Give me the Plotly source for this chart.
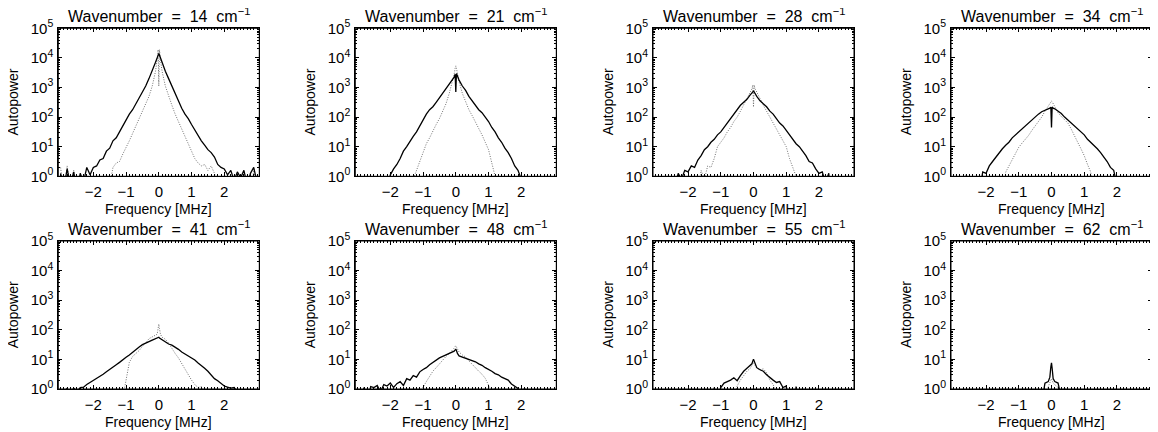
import plotly.graph_objects as go

# --------------------------------------------------------------
# Data (log10 of autopower)
# --------------------------------------------------------------
freq = [-3.0, -2.9, -2.8, -2.7, -2.6, -2.5, -2.4, -2.3, -2.2, -2.1,
        -2.0, -1.9, -1.8, -1.7, -1.6, -1.5, -1.4, -1.3, -1.2, -1.1,
        -1.0, -0.9, -0.8, -0.7, -0.6, -0.5, -0.4, -0.3, -0.2, -0.1,
        -0.05, -0.02, 0.0, 0.02, 0.05,
        0.1, 0.2, 0.3, 0.4, 0.5, 0.6, 0.7, 0.8, 0.9, 1.0,
        1.1, 1.2, 1.3, 1.4, 1.5, 1.6, 1.7, 1.8, 1.9, 2.0,
        2.1, 2.2, 2.3, 2.4, 2.5, 2.6, 2.7, 2.8, 2.9, 3.0]

wavenumbers = [14, 21, 28, 34, 41, 48, 55, 62]

solid_14 = [0.1, -0.4, 0.25, -0.3, 0.15, -0.5, 0.1, -0.2, 0.3, 0.05,
            0.3, 0.35, 0.55, 0.6, 0.85, 0.95, 1.2, 1.3, 1.5, 1.7,
            1.95, 2.1, 2.25, 2.45, 2.6, 2.8, 3.05, 3.3, 3.55, 3.85,
            4.0, 4.1, 4.15, 4.1, 4.0,
            3.85, 3.55, 3.3, 3.05, 2.75, 2.5, 2.3, 2.1, 1.95, 1.75,
            1.55, 1.4, 1.2, 1.05, 0.9, 0.8, 0.65, 0.4, 0.3, 0.25,
            0.05, 0.2, -0.15, 0.15, -0.05, 0.2, -0.3, 0.1, 0.3, -0.2]
dotted_14 = [0.3, -0.6, 0.35, -0.4, 0.2, -0.8, -1.5, -1.5, -1.5, -1.5,
             -1.5, -1.5, -1.2, -0.5, 0.05, -0.3, 0.3, 0.45, 0.5, 0.75,
             0.95, 1.2, 1.45, 1.7, 1.95, 2.2, 2.45, 2.7, 3.05, 3.55,
             3.95, 4.28, 3.05, 4.28, 3.95,
             3.55, 3.05, 2.7, 2.4, 2.1, 1.85, 1.6, 1.35, 1.1, 0.85,
             0.6, 0.45, 0.35, 0.4, 0.2, 0.35, 0.1, -0.4, -1.5, -1.5,
             -1.5, -1.5, -1.5, -1.5, -1.5, -1.5, -1.5, -0.6, 0.2, -0.5]

solid_21 = [-1.5, -1.5, -1.5, -1.5, -1.5, -1.5, -1.5, -1.5, -1.5, -0.4,
            0.05, 0.25, 0.4, 0.6, 0.85, 1.0, 1.2, 1.35, 1.5, 1.7,
            1.95, 2.1, 2.25, 2.35, 2.5, 2.65, 2.8, 2.95, 3.1, 3.25,
            3.35, 3.45, 2.85, 3.47, 3.38,
            3.25, 3.05, 2.9, 2.7, 2.55, 2.4, 2.25, 2.15, 2.0, 1.85,
            1.65, 1.5, 1.3, 1.15, 0.95, 0.8, 0.6, 0.35, 0.2, -0.1,
            -1.5, -1.5, -1.5, -1.5, -1.5, -1.5, -1.5, -1.5, -1.5, -1.5]
dotted_21 = [-1.5, -1.5, -1.5, -1.5, -1.5, -1.5, -1.5, -1.5, -1.5, -1.5,
             -1.5, -1.5, -1.5, -1.5, -1.5, -1.5, -1.5, -0.1, 0.2, 0.5,
             0.85, 1.1, 1.3, 1.55, 1.75, 1.95, 2.2, 2.45, 2.8, 3.2,
             3.45, 3.65, 3.73, 3.65, 3.45,
             3.2, 2.8, 2.5, 2.25, 2.05, 1.85, 1.6, 1.4, 1.15, 0.9,
             0.45, 0.0, -1.5, -1.5, -1.5, -1.5, -1.5, -1.5, -1.5, -1.5,
             -1.5, -1.5, -1.5, -1.5, -1.5, -1.5, -1.5, -1.5, -1.5, -1.5]

solid_28 = [-1.5, -1.5, -1.5, -1.5, -1.5, -1.5, -0.3, 0.1, -0.1, 0.2,
            0.15, 0.35, 0.3, 0.55, 0.7, 0.9, 1.0, 1.15, 1.25, 1.4,
            1.5, 1.65, 1.8, 1.95, 2.1, 2.25, 2.4, 2.5, 2.6, 2.75,
            2.8, 2.85, 2.89, 2.85, 2.8,
            2.7, 2.55, 2.45, 2.35, 2.2, 2.1, 1.95, 1.8, 1.7, 1.55,
            1.4, 1.25, 1.1, 1.0, 0.85, 0.7, 0.5, 0.45, 0.25, 0.1,
            0.15, -0.2, 0.1, -1.5, -1.5, -1.5, -1.5, -1.5, -1.5, -1.5]
dotted_28 = [-1.5, -1.5, -1.5, -1.5, -1.5, -1.5, -1.5, -1.5, -1.5, -1.5,
             -1.5, -1.5, -1.5, -0.6, 0.2, -0.1, 0.35, 0.3, 0.6, 1.0,
             1.15, 1.3, 1.5, 1.65, 1.85, 2.0, 2.2, 2.4, 2.6, 2.85,
             2.95, 3.08, 2.34, 3.08, 2.95,
             2.85, 2.6, 2.4, 2.2, 2.0, 1.8, 1.6, 1.4, 1.2, 1.0,
             0.6, 0.3, 0.0, -1.5, -1.5, -1.5, -1.5, -1.5, -1.5, -1.5,
             -1.5, -1.5, -1.5, -1.5, -1.5, -1.5, -1.5, -1.5, -1.5, -1.5]

solid_34 = [-1.5, -1.5, -1.5, -1.5, 0.05, -1.5, -1.5, -1.5, -0.5, 0.15,
            0.1, 0.35, 0.5, 0.65, 0.8, 0.93, 1.05, 1.15, 1.3, 1.4,
            1.5, 1.6, 1.72, 1.8, 1.9, 2.0, 2.1, 2.18, 2.22, 2.28,
            2.3, 2.33, 1.65, 2.34, 2.3,
            2.28, 2.2, 2.12, 2.0, 1.9, 1.8, 1.7, 1.6, 1.5, 1.4,
            1.25, 1.15, 1.05, 0.93, 0.8, 0.65, 0.5, 0.3, 0.2, -0.3,
            -1.5, -1.5, -1.5, -1.5, -1.5, -1.5, -1.5, -1.5, -1.5, -1.5]
dotted_34 = [-1.5, -1.5, -1.5, -1.5, -1.5, -1.5, -1.5, -1.5, -1.5, -1.5,
             -1.5, -1.5, -1.5, -1.5, -1.5, -1.5, 0.14, 0.35, 0.6, 0.81,
             0.98, 1.12, 1.25, 1.38, 1.55, 1.7, 1.84, 2.0, 2.2, 2.38,
             2.46, 2.52, 2.54, 2.52, 2.46,
             2.35, 2.15, 2.02, 1.9, 1.8, 1.6, 1.4, 1.15, 0.93, 0.7,
             0.4, 0.14, -1.5, -1.5, -1.5, -1.5, -1.5, -1.5, -1.5, -1.5,
             -1.5, -1.5, -1.5, -1.5, -1.5, -1.5, -1.5, -1.5, -1.5, -1.5]

solid_41 = [-1.5, -0.1, 0.02, -0.2, 0.03, -0.1, 0.05, 0.06, 0.15, 0.22,
            0.28, 0.34, 0.42, 0.5, 0.58, 0.67, 0.75, 0.82, 0.9, 1.0,
            1.07, 1.15, 1.25, 1.33, 1.42, 1.5, 1.56, 1.6, 1.65, 1.7,
            1.72, 1.74, 1.75, 1.72, 1.7,
            1.65, 1.58, 1.52, 1.48, 1.42, 1.34, 1.25, 1.18, 1.12, 1.07,
            0.98, 0.88, 0.8, 0.7, 0.6, 0.48, 0.35, 0.28, 0.18, 0.1,
            0.06, 0.03, 0.05, -0.1, -1.5, -1.5, -1.5, -1.5, -1.5, -1.5]
dotted_41 = [-1.5, -1.5, -1.5, -1.5, -1.5, -1.5, -1.5, -1.5, -1.5, -1.5,
             -1.5, -1.5, -1.5, -1.5, -1.5, -1.5, -1.5, -1.5, -1.5, -0.3,
             0.3, 0.9, 1.1, 1.2, 1.3, 1.45, 1.55, 1.7, 1.75, 1.8,
             1.85, 2.05, 2.19, 2.05, 1.85,
             1.75, 1.68, 1.55, 1.35, 1.2, 1.05, 0.85, 0.7, 0.5, 0.3,
             0.15, 0.05, 0.08, -0.3, -1.5, -1.5, -1.5, -1.5, -1.5, -1.5,
             -1.5, -1.5, -1.5, -1.5, -1.5, -1.5, -1.5, -1.5, -1.5, -1.5]

solid_48 = [-1.5, -0.3, 0.05, -0.5, 0.08, 0.05, 0.12, -0.1, 0.15, 0.1,
            0.2, 0.05, 0.18, 0.25, 0.12, 0.35, 0.3, 0.45, 0.4, 0.58,
            0.66, 0.72, 0.82, 0.9, 0.96, 1.05, 1.1, 1.15, 1.2, 1.25,
            1.28, 1.32, 1.35, 1.3, 1.2,
            1.12, 1.08, 1.05, 1.02, 0.98, 0.92, 0.85, 0.8, 0.72, 0.67,
            0.6, 0.52, 0.48, 0.4, 0.34, 0.3, 0.17, 0.1, 0.02, -0.3,
            0.03, -1.5, -1.5, -1.5, -1.5, -1.5, -1.5, -1.5, -1.5, -1.5]
dotted_48 = [-1.5, -1.5, -1.5, -1.5, -1.5, -1.5, -1.5, -1.5, -1.5, -1.5,
             -1.5, -1.5, -1.5, -1.5, -1.5, -1.5, -1.5, -1.5, -1.5, -0.2,
             0.06, 0.25, 0.45, 0.6, 0.72, 0.85, 0.98, 1.1, 1.2, 1.3,
             1.38, 1.44, 1.46, 1.42, 1.35,
             1.25, 1.15, 1.08, 0.95, 0.85, 0.72, 0.6, 0.5, 0.36, 0.15,
             -0.1, 0.05, -1.5, -1.5, -1.5, -1.5, -1.5, -1.5, -1.5, -1.5,
             -1.5, -1.5, -1.5, -1.5, -1.5, -1.5, -1.5, -1.5, -1.5, -1.5]

solid_55 = [-1.5, -1.5, -1.5, -1.5, -1.5, -1.5, -1.5, -1.5, -1.5, -1.5,
            -1.5, -1.5, -1.5, -1.5, -1.5, -1.5, -1.5, -1.5, 0.05, -0.5,
            0.05, 0.2, 0.25, 0.3, 0.38, 0.28, 0.45, 0.6, 0.7, 0.8,
            0.85, 0.95, 1.01, 0.95, 0.85,
            0.72, 0.65, 0.6, 0.48, 0.38, 0.3, 0.22, 0.25, 0.05, 0.1,
            -0.5, -1.5, 0.08, -1.5, -1.5, -1.5, -1.5, -1.5, -1.5, -1.5,
            -1.5, -1.5, -1.5, -1.5, -1.5, -1.5, -1.5, -1.5, -1.5, -1.5]
dotted_55 = [-1.5, -1.5, -1.5, -1.5, -1.5, -1.5, -1.5, -1.5, -1.5, -1.5,
             -1.5, -1.5, -1.5, -1.5, -1.5, -1.5, -1.5, -1.5, -1.5, -1.5,
             -1.5, -1.5, -1.5, -1.5, -0.3, 0.1, 0.3, 0.45, 0.6, 0.7,
             0.78, 0.85, 0.9, 0.85, 0.78,
             0.7, 0.65, 0.68, 0.55, 0.3, 0.15, -0.2, -1.5, -1.5, -1.5,
             -1.5, -1.5, -1.5, -1.5, -1.5, -1.5, -1.5, -1.5, -1.5, -1.5,
             -1.5, -1.5, -1.5, -1.5, -1.5, -1.5, -1.5, -1.5, -1.5, -1.5]

solid_62 = [-1.5, -1.5, -1.5, -1.5, -1.5, -1.5, -1.5, -1.5, -1.5, -1.5,
            -1.5, -1.5, -1.5, -1.5, -1.5, -1.5, -1.5, -1.5, -1.5, -1.5,
            -1.5, -1.5, -1.5, -1.5, -1.5, -1.5, -1.5, -0.5, 0.2, 0.25,
            0.4, 0.75, 0.88, 0.7, 0.35,
            0.25, 0.2, -0.3, 0.02, -1.5, -1.5, -1.5, -1.5, -1.5, -1.5,
            -1.5, -1.5, -1.5, -1.5, -1.5, -1.5, -1.5, -1.5, -1.5, -1.5,
            -1.5, -1.5, -1.5, -1.5, -1.5, -1.5, -1.5, -1.5, -1.5, -1.5]
dotted_62 = [-1.5, -1.5, -1.5, -1.5, -1.5, -1.5, -1.5, -1.5, -1.5, -1.5,
             -1.5, -1.5, -1.5, -1.5, -1.5, -1.5, -1.5, -1.5, -1.5, -1.5,
             -1.5, -1.5, -1.5, -1.5, -1.5, -1.5, -1.5, -1.5, -0.2, 0.1,
             0.2, 0.3, 0.35, 0.3, 0.2,
             0.15, 0.05, -0.5, -1.5, -1.5, -1.5, -1.5, -1.5, -1.5, -1.5,
             -1.5, -1.5, -1.5, -1.5, -1.5, -1.5, -1.5, -1.5, -1.5, -1.5,
             -1.5, -1.5, -1.5, -1.5, -1.5, -1.5, -1.5, -1.5, -1.5, -1.5]

solid_series = [solid_14, solid_21, solid_28, solid_34,
                solid_41, solid_48, solid_55, solid_62]
dotted_series = [dotted_14, dotted_21, dotted_28, dotted_34,
                 dotted_41, dotted_48, dotted_55, dotted_62]

x_ticks = [-2, -1, 0, 1, 2]
x_ticktext = ["\u22122", "\u22121", "0", "1", "2"]
y_ticks = [1, 10, 100, 1000, 10000, 100000]
y_ticktext = ["10<sup>%d</sup>" % k for k in range(6)]

# --------------------------------------------------------------
# Layout parameters (pixels on the page; the page body adds 8px)
# --------------------------------------------------------------
W, H = 1158, 432
OFF = 8
col_left = [58.3, 355.3, 653.0, 951.0]
row_top = [28.3, 241.0]
pw, ph = 201, 148
font_name = "Liberation Sans, Arial, sans-serif"


def px_x(p):
    return (p - OFF) / W


def px_y(p):
    return 1 - (p - OFF) / H


minor_y = [m * 10 ** k for k in range(5) for m in range(2, 10)]

fig = go.Figure()
annotations = []
shapes = []

for i, wn in enumerate(wavenumbers):
    r, c = divmod(i, 4)
    n = i + 1
    xa = "x" if n == 1 else "x%d" % n
    ya = "y" if n == 1 else "y%d" % n
    L, T = col_left[c], row_top[r]

    fig.add_trace(go.Scatter(
        x=freq, y=[10 ** v for v in dotted_series[i]],
        mode="lines", line=dict(color="#707070", width=1, dash="1px,1.5px"),
        xaxis=xa, yaxis=ya, showlegend=False))
    fig.add_trace(go.Scatter(
        x=freq, y=[10 ** v for v in solid_series[i]],
        mode="lines", line=dict(color="black", width=1.3),
        xaxis=xa, yaxis=ya, showlegend=False))

    xkey = "xaxis" if n == 1 else "xaxis%d" % n
    ykey = "yaxis" if n == 1 else "yaxis%d" % n
    fig.update_layout({
        xkey: dict(
            domain=[px_x(L), px_x(L + pw)], anchor=ya, range=[-3.07, 3.07],
            automargin=False, showline=True, linecolor="black", linewidth=1,
            mirror="allticks",
            ticks="inside", ticklen=4, tickcolor="black",
            tickvals=x_ticks, ticktext=x_ticktext, ticklabelstandoff=2,
            minor=dict(ticks="inside", ticklen=2, dtick=0.1, tickcolor="black"),
            showgrid=False, zeroline=False,
            tickfont=dict(size=15, color="black", family=font_name)),
        ykey: dict(
            domain=[px_y(T + ph), px_y(T)], anchor=xa, type="log",
            range=[0, 5], automargin=False, showline=True, linecolor="black",
            linewidth=1, mirror="allticks",
            ticks="inside", ticklen=4, tickcolor="black",
            tickvals=y_ticks, ticktext=y_ticktext, ticklabelstandoff=1,
            minor=dict(ticks="inside", ticklen=2, tickmode="array",
                       tickvals=minor_y, tickcolor="black"),
            showgrid=False, zeroline=False,
            tickfont=dict(size=15, color="black", family=font_name)),
    })

    # plot frame
    shapes.append(dict(
        type="rect", xref="paper", yref="paper",
        x0=px_x(L), x1=px_x(L + pw), y0=px_y(T + ph), y1=px_y(T),
        line=dict(color="black", width=1), layer="above"))

    annotations.append(dict(
        text="Wavenumber\u00a0\u00a0=\u00a0\u00a0%d\u00a0\u00a0cm<sup>\u22121</sup>" % wn,
        x=px_x(L + pw / 2), y=px_y(T - 13), xref="paper", yref="paper",
        xanchor="center", yanchor="middle", showarrow=False,
        font=dict(size=16, color="black", family=font_name)))
    annotations.append(dict(
        text="Frequency [MHz]",
        x=px_x(L + pw / 2), y=px_y(T + ph + 33), xref="paper", yref="paper",
        xanchor="center", yanchor="middle", showarrow=False,
        font=dict(size=14, color="black", family=font_name)))
    annotations.append(dict(
        text="Autopower", textangle=-90,
        x=px_x(L - 45), y=px_y(T + ph / 2), xref="paper", yref="paper",
        xanchor="center", yanchor="middle", showarrow=False,
        font=dict(size=14, color="black", family=font_name)))

fig.update_layout(
    width=W, height=H, autosize=False,
    margin=dict(l=0, r=0, t=0, b=0, pad=0, autoexpand=False),
    paper_bgcolor="white", plot_bgcolor="white",
    annotations=annotations, shapes=shapes,
    font=dict(family=font_name, color="black"),
)

fig.write_html("out.html")
